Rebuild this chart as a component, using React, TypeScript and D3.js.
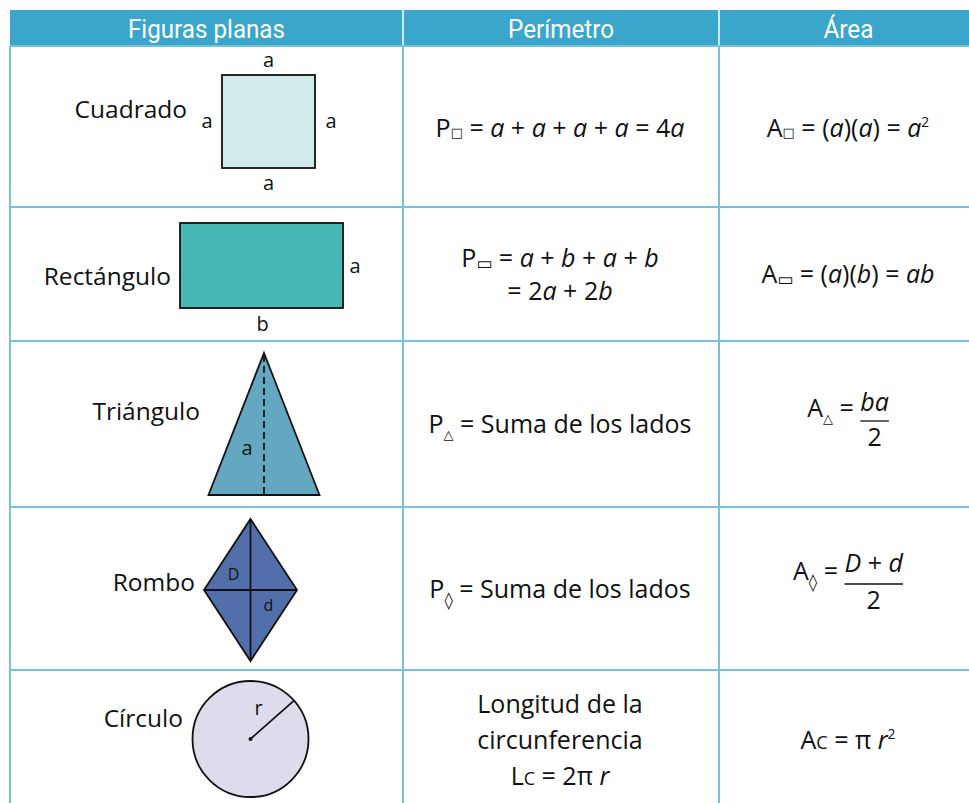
import React, { useEffect, useRef } from "react";
import * as d3 from "d3";

type Seg = { t: string; k?: "n" | "i" | "sub" | "sup" | "sc"; g?: string };

// ---------- data ----------
const HEADERS = ["Figuras planas", "Perímetro", "Área"];
const FIGURES = ["Cuadrado", "Rectángulo", "Triángulo", "Rombo", "Círculo"];
const SYMBOLS = ["sq", "rect", "tri", "rhombus", "circ"];

const PERIMETERS: Seg[][][] = [
  [[{ t: "P" }, { t: "□", k: "sub", g: "sq" }, { t: " = " }, { t: "a", k: "i" }, { t: " + " }, { t: "a", k: "i" }, { t: " + " }, { t: "a", k: "i" }, { t: " + " }, { t: "a", k: "i" }, { t: " = 4" }, { t: "a", k: "i" }]],
  [
    [{ t: "P" }, { t: "▭", k: "sub", g: "rect" }, { t: " = " }, { t: "a", k: "i" }, { t: " + " }, { t: "b", k: "i" }, { t: " + " }, { t: "a", k: "i" }, { t: " + " }, { t: "b", k: "i" }],
    [{ t: "= 2" }, { t: "a", k: "i" }, { t: " + 2" }, { t: "b", k: "i" }],
  ],
  [[{ t: "P" }, { t: "△", k: "sub", g: "tri" }, { t: " = Suma de los lados" }]],
  [[{ t: "P" }, { t: "◊", k: "sub", g: "rhombus" }, { t: " = Suma de los lados" }]],
  [
    [{ t: "Longitud de la" }],
    [{ t: "circunferencia" }],
    [{ t: "L" }, { t: "C", k: "sc" }, { t: " = 2π " }, { t: "r", k: "i" }],
  ],
];

// area: prefix segments + optional fraction numerator (denominator "2")
const AREA_PREFIX: Seg[][] = [
  [{ t: "A" }, { t: "□", k: "sub", g: "sq" }, { t: " = (" }, { t: "a", k: "i" }, { t: ")(" }, { t: "a", k: "i" }, { t: ") = " }, { t: "a", k: "i" }, { t: "2", k: "sup" }],
  [{ t: "A" }, { t: "▭", k: "sub", g: "rect" }, { t: " = (" }, { t: "a", k: "i" }, { t: ")(" }, { t: "b", k: "i" }, { t: ") = " }, { t: "ab", k: "i" }],
  [{ t: "A" }, { t: "△", k: "sub", g: "tri" }, { t: " = " }],
  [{ t: "A" }, { t: "◊", k: "sub", g: "rhombus" }, { t: " = " }],
  [{ t: "A" }, { t: "C", k: "sc" }, { t: " = π " }, { t: "r", k: "i" }, { t: "2", k: "sup" }],
];
const AREA_NUMERATOR: (Seg[] | null)[] = [
  null,
  null,
  [{ t: "ba", k: "i" }],
  [{ t: "D", k: "i" }, { t: " + " }, { t: "d", k: "i" }],
  null,
];
const AREA_DENOMINATOR = "2";

// ---------- layout ----------
const W = 969;
const H = 803;
const COL_X = [10, 403, 719, 978];
const ROW_Y = [10, 46, 207, 341, 507, 670, 803];
const HEADER_BG = "#3aa6cc";
const GRID = "#74c2dc";
const FONT = "'Open Sans', 'Noto Sans', sans-serif";
const GLYPH_FONT = "'DejaVu Sans', sans-serif";
const FS = 25;

const GLYPH_STYLE: Record<string, { size: number; shift: number }> = {
  sq: { size: 13, shift: 0 },
  rect: { size: 17, shift: 2 },
  tri: { size: 13, shift: 6 },
  rhombus: { size: 17, shift: 8 },
};

function appendSegs(text: any, segs: Seg[], base: number) {
  let cur = 0;
  segs.forEach((s) => {
    let shift = 0;
    const sp = text.append("tspan").text(s.t);
    if (s.k === "i") sp.attr("font-style", "italic");
    if (s.k === "sub") {
      const gs = GLYPH_STYLE[s.g || "sq"];
      sp.attr("font-family", GLYPH_FONT).attr("font-size", gs.size);
      shift = gs.shift;
    }
    if (s.k === "sup") {
      sp.attr("font-size", base * 0.55);
      shift = -base * 0.42;
    }
    if (s.k === "sc") sp.attr("font-size", base * 0.72);
    if (shift !== cur) sp.attr("dy", shift - cur);
    cur = shift;
  });
  return text;
}

export default function App() {
  const ref = useRef<SVGSVGElement>(null);

  useEffect(() => {
    const svg = d3.select(ref.current);
    svg.selectAll("*").remove();
    svg.append("rect").attr("width", W).attr("height", H).attr("fill", "#fff");

    const rowTop = (i: number) => ROW_Y[i + 1];
    const colMid = (c: number) => (COL_X[c] + COL_X[c + 1]) / 2;

    // header
    svg.append("rect").attr("x", COL_X[0]).attr("y", ROW_Y[0]).attr("width", W - COL_X[0]).attr("height", ROW_Y[1] - ROW_Y[0]).attr("fill", HEADER_BG);
    [COL_X[1], COL_X[2]].forEach((x) =>
      svg.append("line").attr("x1", x).attr("x2", x).attr("y1", ROW_Y[0]).attr("y2", ROW_Y[1]).attr("stroke", "#cdeaf4").attr("stroke-width", 2)
    );
    const headerWidths = [157, 106, 50];
    HEADERS.forEach((h, i) => {
      svg.append("text")
        .attr("x", colMid(i))
        .attr("y", 38)
        .attr("text-anchor", "middle")
        .attr("fill", "#fff")
        .attr("font-family", "'Liberation Sans Narrow', Roboto, sans-serif")
        .attr("font-size", 26)
        .attr("textLength", headerWidths[i])
        .attr("lengthAdjust", "spacingAndGlyphs")
        .text(h);
    });

    // grid
    const grid = svg.append("g").attr("stroke", GRID).attr("stroke-width", 2);
    ROW_Y.slice(1, -1).forEach((y) => grid.append("line").attr("x1", COL_X[0]).attr("x2", W).attr("y1", y).attr("y2", y));
    COL_X.slice(0, 3).forEach((x) => grid.append("line").attr("x1", x).attr("x2", x).attr("y1", ROW_Y[1]).attr("y2", H));

    // figure names
    const nameRight = [187, 171, 200, 195, 183];
    const nameBase = [72, 78, 79, 84, 57];
    FIGURES.forEach((f, i) => {
      svg.append("text").attr("x", nameRight[i]).attr("y", rowTop(i) + nameBase[i]).attr("text-anchor", "end")
        .attr("font-family", FONT).attr("font-size", 24.5).attr("fill", "#111").text(f);
    });

    const label = (x: number, y: number, t: string, size = 20) =>
      svg.append("text").attr("x", x).attr("y", y).attr("text-anchor", "middle").attr("font-family", FONT)
        .attr("font-size", size).attr("fill", "#111").text(t);

    // shapes
    SYMBOLS.forEach((s, i) => {
      const top = rowTop(i);
      const g = svg.append("g").attr("stroke", "#111").attr("stroke-width", 1.8);
      if (s === "sq") {
        const side = 93, x = 222, y = top + 29;
        g.append("rect").attr("x", x).attr("y", y).attr("width", side).attr("height", side).attr("fill", "#d1eaea");
        label(x + side / 2, y - 8, "a");
        label(x - 15, y + side / 2 + 6, "a");
        label(x + side + 16, y + side / 2 + 6, "a");
        label(x + side / 2, y + side + 22, "a");
      } else if (s === "rect") {
        const x = 180, y = top + 16, w = 163, h = 85;
        g.append("rect").attr("x", x).attr("y", y).attr("width", w).attr("height", h).attr("fill", "#47b8b4");
        label(x + w + 12, y + 50, "a");
        label(x + w / 2 + 1, y + h + 23, "b");
      } else if (s === "tri") {
        const cx = 264, y0 = top + 12, y1 = top + 154, half = 55.5;
        const path = d3.path();
        path.moveTo(cx, y0); path.lineTo(cx + half, y1); path.lineTo(cx - half, y1); path.closePath();
        g.append("path").attr("d", path.toString()).attr("fill", "#64a7c0").attr("stroke-linejoin", "miter");
        g.append("line").attr("x1", cx).attr("x2", cx).attr("y1", y0 + 2).attr("y2", y1).attr("stroke-dasharray", "7,4");
        label(cx - 17, top + 114, "a");
      } else if (s === "rhombus") {
        const cx = 250.5, cy = top + 83, hw = 46.5, hh = 71;
        const path = d3.path();
        path.moveTo(cx, cy - hh); path.lineTo(cx + hw, cy); path.lineTo(cx, cy + hh); path.lineTo(cx - hw, cy); path.closePath();
        g.append("path").attr("d", path.toString()).attr("fill", "#536fab").attr("stroke-linejoin", "miter");
        g.append("line").attr("x1", cx).attr("x2", cx).attr("y1", cy - hh).attr("y2", cy + hh);
        g.append("line").attr("x1", cx - hw).attr("x2", cx + hw).attr("y1", cy).attr("y2", cy);
        label(cx - 17, cy - 10, "D", 16);
        label(cx + 18, cy + 21, "d", 16);
      } else if (s === "circ") {
        const cx = 250.5, cy = top + 69, r = 58, ang = Math.atan2(-38, 43);
        g.append("circle").attr("cx", cx).attr("cy", cy).attr("r", r).attr("fill", "#dedcec");
        g.append("line").attr("x1", cx).attr("y1", cy).attr("x2", cx + r * Math.cos(ang)).attr("y2", cy + r * Math.sin(ang));
        svg.append("circle").attr("cx", cx).attr("cy", cy).attr("r", 2).attr("fill", "#111");
        label(cx + 8, cy - 24, "r");
      }
    });

    // perimeter column
    const perBase = [
      [91],
      [60, 93],
      [92],
      [91],
      [43, 79, 115],
    ];
    PERIMETERS.forEach((lines, i) => {
      lines.forEach((segs, j) => {
        const t = svg.append("text").attr("x", colMid(1) - 1).attr("y", rowTop(i) + perBase[i][j])
          .attr("text-anchor", "middle").attr("font-family", FONT).attr("font-size", FS)
          .attr("fill", "#111").style("white-space", "pre");
        appendSegs(t, segs, FS);
      });
    });

    // area column
    const areaBase = [91, 76, 76, 73, 79];
    const areaCx = 848;
    AREA_PREFIX.forEach((segs, i) => {
      const y = rowTop(i) + areaBase[i];
      const num = AREA_NUMERATOR[i];
      const t = svg.append("text").attr("x", areaCx).attr("y", y).attr("text-anchor", "middle")
        .attr("font-family", FONT).attr("font-size", FS).attr("fill", "#111").style("white-space", "pre");
      appendSegs(t, segs, FS);
      if (num) {
        const last = segs.find((s) => s.k === "sub");
        const back = last ? -GLYPH_STYLE[last.g || "sq"].shift : 0;
        const numSpan = t.append("tspan").attr("dy", back);
        num.forEach((s) => {
          const sp = numSpan.append("tspan").text(s.t);
          if (s.k === "i") sp.attr("font-style", "italic");
        });
        const node = numSpan.node() as any;
        const n = node.getNumberOfChars();
        const x0 = node.getStartPositionOfChar(0).x;
        const x1 = node.getEndPositionOfChar(n - 1).x;
        svg.append("line").attr("x1", x0).attr("x2", x1).attr("y1", y + 4).attr("y2", y + 4)
          .attr("stroke", "#111").attr("stroke-width", 1.3);
        svg.append("text").attr("x", (x0 + x1) / 2).attr("y", y + 29).attr("text-anchor", "middle")
          .attr("font-family", FONT).attr("font-size", FS).attr("fill", "#111").text(AREA_DENOMINATOR);
      }
    });
  }, []);

  return (
    <svg
      ref={ref}
      width={W}
      height={H}
      viewBox={`0 0 ${W} ${H}`}
      style={{ position: "absolute", left: 0, top: 0, display: "block" }}
    />
  );
}
